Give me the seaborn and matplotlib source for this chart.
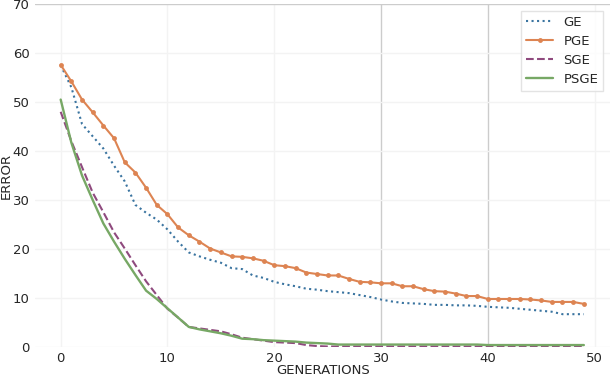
import pandas as pd
import matplotlib
matplotlib.use('Agg')
import matplotlib.pyplot as plt
import seaborn as sns

generations = list(range(50))

ge = [57.5, 53.0, 45.5, 43.0, 40.5, 37.0, 33.8, 29.0, 27.4, 26.0,
      24.0, 21.5, 19.3, 18.5, 17.8, 17.2, 16.1, 15.9, 14.6, 14.1,
      13.3, 12.8, 12.4, 11.9, 11.7, 11.4, 11.2, 11.0, 10.6, 10.2,
      9.7, 9.3, 9.0, 8.9, 8.8, 8.6, 8.6, 8.5, 8.5, 8.4,
      8.2, 8.1, 8.0, 7.8, 7.6, 7.4, 7.2, 6.7, 6.7, 6.7]

pge = [57.6, 54.2, 50.5, 47.9, 45.2, 42.6, 37.7, 35.6, 32.5, 29.0,
       27.1, 24.4, 22.8, 21.5, 20.1, 19.3, 18.5, 18.4, 18.1, 17.6,
       16.7, 16.5, 16.1, 15.2, 14.9, 14.6, 14.6, 13.9, 13.3, 13.2,
       13.0, 13.0, 12.4, 12.4, 11.8, 11.4, 11.3, 10.9, 10.4, 10.4,
       9.8, 9.8, 9.8, 9.8, 9.7, 9.5, 9.2, 9.2, 9.2, 8.8]

sge = [48.0, 42.0, 36.7, 31.5, 27.5, 23.4, 20.1, 16.7, 13.4, 10.6,
       7.8, 6.0, 4.1, 3.8, 3.5, 3.2, 2.6, 1.9, 1.6, 1.3,
       1.0, 0.9, 0.8, 0.4, 0.2, 0.1, 0.1, 0.1, 0.1, 0.1,
       0.1, 0.1, 0.1, 0.1, 0.1, 0.1, 0.1, 0.1, 0.1, 0.1,
       0.1, 0.1, 0.1, 0.1, 0.1, 0.1, 0.1, 0.1, 0.1, 0.1]

psge = [50.5, 41.7, 35.0, 30.0, 25.2, 21.5, 18.0, 14.7, 11.5, 9.8,
        7.9, 6.0, 4.1, 3.6, 3.2, 2.8, 2.3, 1.7, 1.6, 1.4,
        1.3, 1.2, 1.1, 0.9, 0.8, 0.7, 0.5, 0.5, 0.5, 0.5,
        0.5, 0.5, 0.5, 0.5, 0.5, 0.5, 0.5, 0.5, 0.5, 0.5,
        0.4, 0.4, 0.4, 0.4, 0.4, 0.4, 0.4, 0.4, 0.4, 0.4]

df = pd.DataFrame({'GENERATIONS': generations, 'GE': ge, 'PGE': pge, 'SGE': sge, 'PSGE': psge})

sns.set_theme(style='whitegrid')
plt.rcParams['font.family'] = ['DejaVu Sans']

fig = plt.figure(figsize=(6.1, 3.76), dpi=100)
ax = fig.add_axes([0.0566, 0.0771, 0.9434, 0.9122])

sns.lineplot(data=df, x='GENERATIONS', y='GE', ax=ax, label='GE', color='#3a74a0',
             linestyle=':', linewidth=1.5)
sns.lineplot(data=df, x='GENERATIONS', y='PGE', ax=ax, label='PGE', color='#dd8452',
             marker='o', markersize=3.5, markeredgewidth=0, linewidth=1.5)
sns.lineplot(data=df, x='GENERATIONS', y='SGE', ax=ax, label='SGE', color='#8f4a7e',
             linestyle='--', linewidth=1.5)
sns.lineplot(data=df, x='GENERATIONS', y='PSGE', ax=ax, label='PSGE', color='#77a865',
             linewidth=1.7)

ax.set_ylim(0, 70)
ax.set_xticks([0, 10, 20, 30, 40, 50])
ax.set_yticks([0, 10, 20, 30, 40, 50, 60, 70])
ax.set_xlabel('GENERATIONS', fontsize=9.5)
ax.set_ylabel('ERROR', fontsize=9.5)
ax.xaxis.set_label_coords(0.501, -0.05)
ax.yaxis.set_label_coords(-0.037, 0.5)
ax.tick_params(labelsize=9.5, length=0)
ax.tick_params(axis='x', pad=3.5)
ax.tick_params(axis='y', pad=3.6)
sns.despine(ax=ax, left=True, bottom=True, right=True, top=True)

# most grid lines look faint in the reference, a few are darker
for tick, line in zip(ax.get_xticks(), ax.get_xgridlines()):
    line.set_color('#cccccc' if tick in (30, 40) else '#f3f3f3')
for tick, line in zip(ax.get_yticks(), ax.get_ygridlines()):
    line.set_color('#cccccc' if tick == 70 else '#f3f3f3')

ax.legend(loc='upper right', fontsize=9.5, labelspacing=0.45, frameon=True,
          edgecolor='#dddddd', fancybox=False)

plt.savefig('out.png', dpi=100)
plt.close()
